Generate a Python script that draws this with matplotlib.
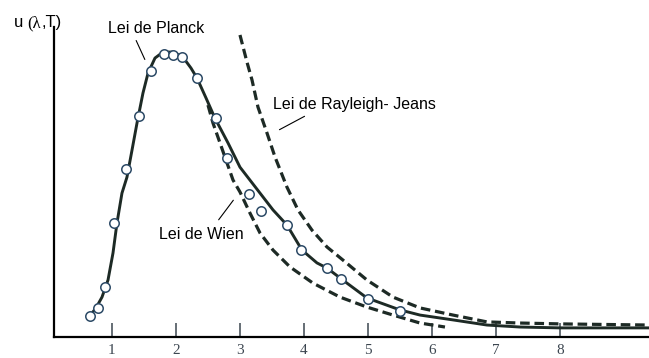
import matplotlib
matplotlib.use("Agg")
import matplotlib.pyplot as plt

# curves (lambda, u)
planck_x = [0.656, 0.750, 0.844, 0.938, 1.016, 1.078, 1.156, 1.234, 1.313, 1.391, 1.484, 1.563,
            1.672, 1.797, 1.953, 2.109, 2.234, 2.328, 2.469, 2.609, 2.813, 3.000, 3.313, 3.516,
            3.734, 3.969, 4.203, 4.359, 4.672, 4.984, 5.500, 5.813, 6.328, 6.859, 7.375, 8.000, 9.391]
planck_y = [0.074, 0.102, 0.140, 0.200, 0.295, 0.400, 0.505, 0.561, 0.656, 0.751, 0.856, 0.926,
            0.979, 1.000, 1.000, 0.982, 0.944, 0.909, 0.839, 0.768, 0.681, 0.596, 0.505, 0.446,
            0.393, 0.305, 0.260, 0.242, 0.189, 0.137, 0.095, 0.077, 0.060, 0.042, 0.035, 0.032, 0.032]

wien_x = [2.500, 2.578, 2.688, 2.797, 2.891, 3.000, 3.156, 3.313, 3.516, 3.781, 4.141, 4.563,
          4.984, 5.391, 5.813, 6.203]
wien_y = [0.814, 0.751, 0.681, 0.611, 0.551, 0.509, 0.435, 0.365, 0.305, 0.246, 0.189, 0.140,
          0.105, 0.077, 0.049, 0.035]

rj_x = [3.000, 3.109, 3.188, 3.281, 3.422, 3.547, 3.734, 3.906, 4.125, 4.359, 4.609, 4.984,
        5.391, 5.813, 6.328, 6.859, 7.375, 8.000, 9.391]
rj_y = [1.060, 0.965, 0.902, 0.807, 0.716, 0.632, 0.526, 0.446, 0.375, 0.316, 0.270, 0.200,
        0.140, 0.102, 0.077, 0.053, 0.049, 0.046, 0.042]

# measured points (circles)
data_x = [0.656, 0.781, 0.891, 1.031, 1.219, 1.422, 1.609, 1.813, 1.953, 2.094, 2.328, 2.625,
          2.797, 3.141, 3.328, 3.734, 3.953, 4.359, 4.578, 5.0, 5.5]
data_y = [0.074, 0.102, 0.175, 0.400, 0.589, 0.775, 0.933, 0.993, 0.989, 0.982, 0.909, 0.768,
          0.628, 0.502, 0.442, 0.393, 0.305, 0.242, 0.204, 0.133, 0.091]

ticks = [1, 2, 3, 4, 5, 6, 7, 8]

W, H = 649, 358
def px(x, y):
    # pixel (from top-left) -> figure fraction
    return x / W, 1 - y / H

fig = plt.figure(figsize=(W / 100, H / 100), dpi=100)
ax = fig.add_axes([54 / W, (H - 337) / H, (W - 54) / W, (337 - 27) / H])
ax.set_xlim(0.094, 9.391)
ax.set_ylim(0, 1.088)

line_c = "#1d2a25"
ax.plot(planck_x, planck_y, color=line_c, lw=2.1, solid_capstyle="round", solid_joinstyle="round", zorder=3)
ax.plot(wien_x, wien_y, color=line_c, lw=2.3, dashes=(3, 1.5), zorder=2)
ax.plot(rj_x, rj_y, color=line_c, lw=2.3, dashes=(3, 1.5), zorder=2, clip_on=False)
ax.plot(data_x, data_y, ls="none", marker="o", ms=6.8, mfc="white", mec="#2c4a66", mew=1.1, zorder=4)

for s in ["top", "right"]:
    ax.spines[s].set_visible(False)
ax.spines["left"].set_linewidth(1.6)
ax.spines["bottom"].set_linewidth(1.6)
ax.set_yticks([])
ax.set_xticks(ticks)
ax.set_xticklabels([str(t) for t in ticks], fontfamily="Liberation Serif", fontsize=11, color="#3c4650")
ax.tick_params(axis="x", direction="in", length=10, width=1.1, color="#3c4650", pad=5)

# axis title
sans = "Liberation Sans"
fig.text(*px(14, 27), "u", fontfamily=sans, fontsize=12, va="baseline", ha="left")
fig.text(*px(27, 27), "(λ", fontfamily="Liberation Serif", fontsize=12, va="baseline", ha="left")
fig.text(*px(42, 27), ",T)", fontfamily=sans, fontsize=12, va="baseline", ha="left")

# labels with leader lines
fig.text(*px(108, 33), "Lei de Planck", fontfamily=sans, fontsize=11.5, va="baseline", ha="left")
fig.text(*px(273, 109), "Lei de Rayleigh- Jeans", fontfamily=sans, fontsize=11.5, va="baseline", ha="left")
fig.text(*px(159, 239), "Lei de Wien", fontfamily=sans, fontsize=11.5, va="baseline", ha="left")

for (x0, y0), (x1, y1) in [((135, 38), (146, 62)), ((307, 115), (277, 131)), ((235, 198), (217, 222))]:
    ax.annotate("", xy=(x1, H - y1), xytext=(x0, H - y0), xycoords="figure pixels",
                textcoords="figure pixels", arrowprops=dict(arrowstyle="-", lw=0.8, color="black"))

fig.savefig("out.png", dpi=100)
